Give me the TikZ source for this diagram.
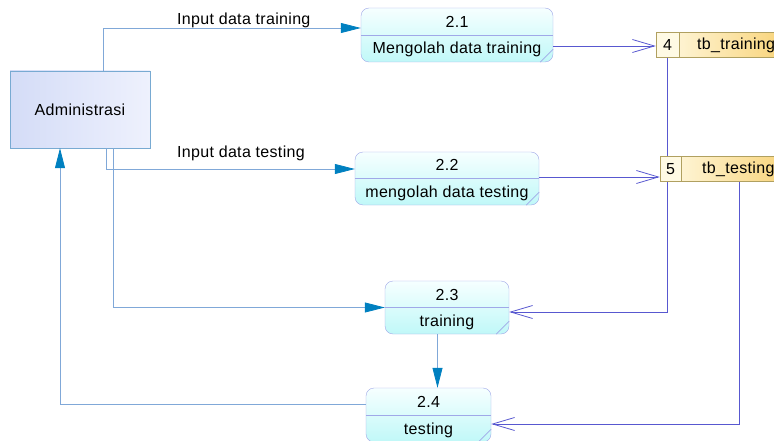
\documentclass[tikz,border=0pt]{standalone}
\usepackage{fontspec}
\setmainfont{Liberation Sans}[LetterSpace=2]
\usetikzlibrary{arrows.meta}
\definecolor{flowblue}{RGB}{128,168,216}
\definecolor{headblue}{RGB}{0,128,192}
\definecolor{storeline}{RGB}{88,88,208}
\definecolor{procline}{RGB}{160,168,232}
\definecolor{proctop}{RGB}{246,255,255}
\definecolor{procbot}{RGB}{192,248,248}
\definecolor{entline}{RGB}{120,170,210}
\definecolor{entleft}{RGB}{212,220,247}
\definecolor{entright}{RGB}{238,241,253}
\definecolor{storeedge}{RGB}{176,160,96}
\definecolor{storepale}{RGB}{255,250,228}
\definecolor{storeorange}{RGB}{248,208,112}

\begin{document}
\begin{tikzpicture}[x=1pt, y=-1pt,
  every node/.style={font=\fontsize{16}{19}\selectfont, inner sep=0pt},
  entity/.style={draw=entline, left color=entleft, right color=entright, minimum width=140pt, minimum height=77pt},
  proc/.style={draw=procline, rounded corners=8pt, top color=proctop, bottom color=procbot},
  store/.style={draw=storeedge, left color=storepale, right color=storeorange, minimum width=140pt, minimum height=25pt},
  storeid/.style={draw=storeedge, fill=storepale, anchor=west, minimum height=25pt},
  flow/.style={draw=flowblue, line width=0.8pt, -{Triangle[length=20pt,width=10pt,color=headblue]}},
  dflow/.style={draw=storeline, line width=0.8pt, -{Straight Barb[length=22pt,width=13pt]}},
  sep/.style={draw=procline, line width=0.6pt}]
  \useasboundingbox (0,0) rectangle (774,441);

  \node[entity] (admin) at (80,109.5) {Administrasi};

  \node[proc, minimum width=192pt, minimum height=54pt] (p21) at (457,35) {};
  \node[proc, minimum width=184pt, minimum height=53pt] (p22) at (447,178.5) {};
  \node[proc, minimum width=124pt, minimum height=53pt] (p23) at (447,307.5) {};
  \node[proc, minimum width=125pt, minimum height=54pt] (p24) at (428.5,415) {};
  \foreach \p in {p21,p22,p23,p24} {
    \draw[sep] (\p.west) -- (\p.east);
    \draw[sep] ([xshift=-13pt]\p.south east) -- ([yshift=13pt]\p.south east);
  }
  \node[anchor=base] (p21id) at ([yshift=7.5pt]p21.center) {2.1};
  \node[anchor=base] (p21name) at ([yshift=-19pt]p21.center) {Mengolah data training};
  \node[anchor=base] (p22id) at ([yshift=7.5pt]p22.center) {2.2};
  \node[anchor=base] (p22name) at ([yshift=-19pt]p22.center) {mengolah data testing};
  \node[anchor=base] (p23id) at ([yshift=7.5pt]p23.center) {2.3};
  \node[anchor=base] (p23name) at ([yshift=-19pt]p23.center) {training};
  \node[anchor=base] (p24id) at ([yshift=7.5pt]p24.center) {2.4};
  \node[anchor=base] (p24name) at ([yshift=-19pt]p24.center) {testing};

  \node[store] (s4) at (726,45) {};
  \node[storeid, minimum width=23pt] (s4n) at (s4.west) {4};
  \node[anchor=west] (s4name) at (697,45) {tb\_training};

  \draw[dflow] (s4n.south) |- ([yshift=-4.5pt]p23.east);

  \node[store] (s5) at (730,169) {};
  \node[storeid, minimum width=21pt] (s5n) at (s5.west) {5};
  \node[anchor=west] (s5name) at (702,169) {tb\_testing};

  \node[anchor=base west] (lbl1) at (177,25) {Input data training};
  \node[anchor=base west] (lbl2) at (177,158) {Input data testing};

  \draw[flow] ([xshift=23pt]admin.north) |- ([yshift=7pt]p21.west);
  \draw[flow] ([xshift=26pt]admin.south) |- ([yshift=9.5pt]p22.west);
  \draw[flow] ([xshift=33pt]admin.south) |- (p23.west);
  \draw[flow] ([yshift=11pt]p24.west) -| ([xshift=-20pt]admin.south);
  \draw[flow] ([xshift=-9.5pt]p23.south) -- ([xshift=-9.5pt]p23.south |- p24.north);

  \draw[dflow] ([yshift=-11pt]p21.east) -- ([yshift=-11pt]p21.east -| s4.west);
  \draw[dflow] ([yshift=1.5pt]p22.east) -- ([yshift=1.5pt]p22.east -| s5.west);
  \draw[dflow] ([xshift=9pt]s5.south) |- ([yshift=-9pt]p24.east);
\end{tikzpicture}
\end{document}
